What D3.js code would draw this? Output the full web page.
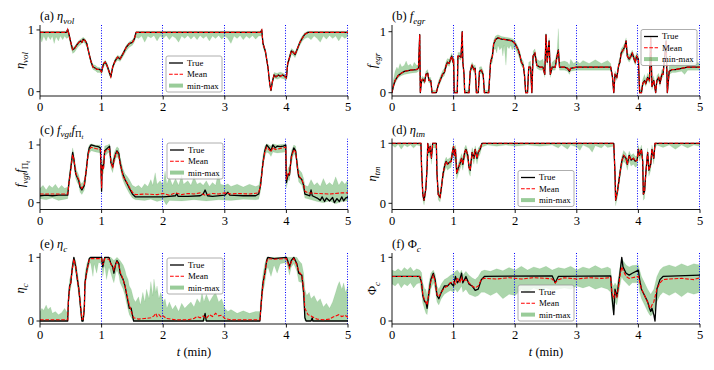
<!DOCTYPE html>
<html><head><meta charset="utf-8">
<script src="https://cdn.jsdelivr.net/npm/d3@7"></script>
<style>body{margin:0;background:#fff}svg{display:block}text{font-family:"Liberation Serif","DejaVu Serif",serif;fill:#000}</style>
</head><body><svg id="c" width="714" height="370"></svg>
<script>
const xTicks=[0,1,2,3,4,5];
const yTicks=[0,1];
const vLines=[1,2,3,4,5];
const legendLabels=["True","Mean","min-max"];

// (a) eta_vol
const trueA=[[0,0.96],[0.43,0.96],[0.45,1.01],[0.47,0.93],[0.5,0.8],[0.53,0.68],[0.56,0.7],[0.6,0.76],[0.63,0.8],[0.66,0.82],[0.68,0.8],[0.7,0.85],[0.73,0.83],[0.76,0.78],[0.8,0.6],[0.83,0.48],[0.86,0.4],[0.9,0.38],[0.93,0.36],[0.97,0.36],[1.0,0.32],[1.03,0.45],[1.06,0.48],[1.09,0.42],[1.12,0.33],[1.15,0.24],[1.18,0.4],[1.22,0.5],[1.26,0.56],[1.3,0.53],[1.35,0.62],[1.4,0.72],[1.45,0.78],[1.5,0.8],[1.53,0.85],[1.56,0.96],[3.58,0.96],[3.6,1.0],[3.62,0.78],[3.66,0.65],[3.7,0.4],[3.73,0.12],[3.75,0.02],[3.77,0.15],[3.8,0.27],[3.83,0.24],[3.87,0.27],[3.9,0.25],[3.94,0.27],[3.97,0.25],[4.0,0.22],[4.02,0.45],[4.05,0.55],[4.08,0.66],[4.11,0.64],[4.14,0.6],[4.18,0.7],[4.22,0.8],[4.26,0.87],[4.3,0.93],[4.35,0.96],[5,0.96]];
const maxA=[[0,0.98],[0.43,0.98],[0.45,1.02],[0.47,0.95],[0.5,0.82],[0.53,0.72],[0.56,0.73],[0.6,0.79],[0.63,0.83],[0.66,0.85],[0.7,0.88],[0.73,0.86],[0.76,0.81],[0.8,0.63],[0.83,0.52],[0.86,0.44],[0.9,0.43],[0.93,0.4],[0.97,0.39],[1.0,0.36],[1.03,0.48],[1.06,0.51],[1.09,0.46],[1.12,0.37],[1.15,0.29],[1.18,0.43],[1.22,0.54],[1.26,0.59],[1.3,0.57],[1.35,0.65],[1.4,0.75],[1.45,0.81],[1.5,0.84],[1.53,0.89],[1.56,0.98],[3.58,0.98],[3.6,1.02],[3.62,0.8],[3.66,0.68],[3.7,0.44],[3.73,0.16],[3.75,0.05],[3.77,0.2],[3.8,0.31],[3.85,0.3],[3.9,0.32],[3.95,0.3],[4.0,0.27],[4.02,0.48],[4.05,0.6],[4.08,0.7],[4.11,0.68],[4.14,0.64],[4.18,0.73],[4.22,0.84],[4.26,0.91],[4.3,0.96],[4.35,0.98],[5,0.98]];
const minA=[[0,0.88],[0.03,0.8],[0.06,0.9],[0.1,0.82],[0.13,0.9],[0.17,0.84],[0.2,0.9],[0.23,0.78],[0.26,0.89],[0.3,0.82],[0.33,0.9],[0.37,0.84],[0.4,0.9],[0.43,0.86],[0.47,0.88],[0.5,0.72],[0.53,0.62],[0.56,0.64],[0.6,0.7],[0.63,0.74],[0.66,0.76],[0.7,0.8],[0.73,0.78],[0.76,0.72],[0.8,0.56],[0.83,0.43],[0.86,0.36],[0.9,0.34],[0.93,0.31],[0.97,0.31],[1.0,0.28],[1.03,0.4],[1.06,0.44],[1.09,0.37],[1.12,0.28],[1.15,0.21],[1.18,0.35],[1.22,0.46],[1.26,0.51],[1.3,0.49],[1.35,0.57],[1.4,0.66],[1.45,0.72],[1.5,0.75],[1.53,0.8],[1.56,0.88],[1.6,0.86],[1.65,0.9],[1.7,0.8],[1.75,0.9],[1.8,0.87],[1.85,0.91],[1.9,0.82],[1.95,0.9],[2.0,0.86],[2.05,0.91],[2.1,0.84],[2.15,0.9],[2.2,0.87],[2.25,0.8],[2.3,0.9],[2.35,0.86],[2.4,0.91],[2.45,0.85],[2.5,0.9],[2.55,0.84],[2.6,0.91],[2.65,0.86],[2.7,0.9],[2.75,0.82],[2.8,0.9],[2.85,0.86],[2.9,0.91],[2.95,0.85],[3.0,0.9],[3.05,0.86],[3.1,0.78],[3.15,0.9],[3.2,0.86],[3.25,0.91],[3.3,0.84],[3.35,0.9],[3.4,0.86],[3.45,0.91],[3.5,0.85],[3.55,0.9],[3.6,0.9],[3.62,0.72],[3.66,0.6],[3.7,0.36],[3.73,0.08],[3.75,0.0],[3.77,0.1],[3.8,0.22],[3.85,0.2],[3.9,0.22],[3.95,0.21],[4.0,0.18],[4.02,0.4],[4.05,0.5],[4.08,0.6],[4.11,0.59],[4.14,0.55],[4.18,0.65],[4.22,0.75],[4.26,0.82],[4.3,0.86],[4.35,0.88],[4.4,0.84],[4.45,0.9],[4.5,0.86],[4.55,0.8],[4.6,0.9],[4.65,0.85],[4.7,0.91],[4.75,0.86],[4.8,0.9],[4.85,0.82],[4.9,0.9],[4.95,0.86],[5,0.9]];

// (b) f_egr
const trueB=[[0,0],[0.02,0.1],[0.05,0.2],[0.1,0.28],[0.15,0.32],[0.2,0.35],[0.3,0.37],[0.4,0.38],[0.43,0.4],[0.45,0.95],[0.46,0.0],[0.48,0.2],[0.5,0.22],[0.53,0.18],[0.55,0.3],[0.58,0.32],[0.6,0.2],[0.63,0.2],[0.65,0.0],[0.72,0.0],[0.75,0.12],[0.78,0.2],[0.82,0.3],[0.85,0.33],[0.88,0.45],[0.9,0.5],[0.93,0.48],[0.95,0.55],[0.97,0.6],[0.99,0.5],[1.0,0.55],[1.01,0.0],[1.06,0.0],[1.07,0.6],[1.1,0.6],[1.12,0.58],[1.14,1.0],[1.15,0.5],[1.17,0.3],[1.18,0.0],[1.25,0.0],[1.27,0.35],[1.3,0.45],[1.33,0.38],[1.35,0.4],[1.37,0.0],[1.4,0.0],[1.42,0.35],[1.45,0.37],[1.48,0.3],[1.5,0.0],[1.57,0.0],[1.6,0.5],[1.63,0.6],[1.65,0.8],[1.68,0.87],[1.72,0.9],[1.78,0.88],[1.85,0.87],[1.9,0.86],[1.95,0.85],[2.0,0.8],[2.05,0.7],[2.08,0.6],[2.1,0.5],[2.13,0.45],[2.15,0.3],[2.17,0.0],[2.2,0.0],[2.22,0.42],[2.25,0.42],[2.27,0.0],[2.29,0.6],[2.32,0.65],[2.35,0.45],[2.4,0.42],[2.45,0.42],[2.48,0.3],[2.5,0.95],[2.52,0.5],[2.55,0.85],[2.57,0.3],[2.6,0.42],[2.65,0.42],[2.68,0.6],[2.7,0.7],[2.72,0.42],[2.8,0.42],[2.85,0.4],[2.88,0.35],[2.9,0.4],[3.0,0.42],[3.55,0.42],[3.58,0.25],[3.6,0.0],[3.62,0.3],[3.65,0.25],[3.68,0.45],[3.7,0.5],[3.72,0.65],[3.75,0.7],[3.78,0.75],[3.8,0.85],[3.82,0.6],[3.85,0.55],[3.88,0.6],[3.9,0.65],[3.93,0.55],[3.95,0.5],[3.97,0.6],[4.0,0.55],[4.02,0.0],[4.05,0.0],[4.07,0.15],[4.1,0.2],[4.12,0.15],[4.15,0.25],[4.18,0.2],[4.2,0.9],[4.22,0.1],[4.25,0.2],[4.28,0.0],[4.3,0.2],[4.33,0.25],[4.35,0.15],[4.38,0.3],[4.4,0.3],[4.45,0.85],[4.47,0.0],[4.5,0.35],[4.55,0.38],[4.6,0.38],[4.7,0.4],[4.8,0.42],[5,0.42]];
const maxB=[[0,0.05],[0.02,0.2],[0.05,0.35],[0.08,0.42],[0.1,0.38],[0.13,0.48],[0.16,0.42],[0.2,0.45],[0.23,0.52],[0.26,0.44],[0.3,0.47],[0.33,0.42],[0.36,0.5],[0.4,0.45],[0.43,0.46],[0.45,0.97],[0.46,0.05],[0.48,0.25],[0.5,0.27],[0.53,0.23],[0.55,0.35],[0.58,0.38],[0.6,0.25],[0.63,0.25],[0.65,0.04],[0.72,0.04],[0.75,0.18],[0.78,0.26],[0.82,0.36],[0.85,0.4],[0.88,0.52],[0.9,0.56],[0.93,0.55],[0.95,0.6],[0.97,0.65],[0.99,0.57],[1.0,0.6],[1.01,0.04],[1.06,0.04],[1.07,0.66],[1.1,0.66],[1.12,0.64],[1.14,1.02],[1.15,0.56],[1.17,0.36],[1.18,0.04],[1.25,0.04],[1.27,0.42],[1.3,0.5],[1.33,0.44],[1.35,0.46],[1.37,0.04],[1.4,0.04],[1.42,0.42],[1.45,0.43],[1.48,0.36],[1.5,0.04],[1.57,0.04],[1.6,0.56],[1.63,0.67],[1.65,0.86],[1.68,0.93],[1.72,0.95],[1.78,0.92],[1.85,0.91],[1.9,0.9],[1.95,0.89],[2.0,0.85],[2.05,0.75],[2.08,0.66],[2.1,0.56],[2.13,0.52],[2.15,0.4],[2.17,0.05],[2.2,0.05],[2.22,0.5],[2.25,0.52],[2.27,0.05],[2.29,0.68],[2.32,0.72],[2.35,0.55],[2.4,0.52],[2.45,0.55],[2.48,0.4],[2.5,0.98],[2.52,0.58],[2.55,0.9],[2.57,0.38],[2.6,0.5],[2.65,0.55],[2.68,0.68],[2.7,1.05],[2.72,0.5],[2.8,0.52],[2.85,0.5],[2.88,0.45],[2.9,0.55],[2.95,0.48],[3.0,0.52],[3.05,0.48],[3.1,0.53],[3.2,0.48],[3.3,0.54],[3.4,0.48],[3.5,0.53],[3.55,0.48],[3.58,0.3],[3.6,0.04],[3.62,0.36],[3.65,0.3],[3.68,0.52],[3.7,0.58],[3.72,0.72],[3.75,0.76],[3.78,0.82],[3.8,0.9],[3.82,0.66],[3.85,0.62],[3.88,0.66],[3.9,0.7],[3.93,0.62],[3.95,0.58],[3.97,0.66],[4.0,0.62],[4.02,0.05],[4.05,0.05],[4.07,0.22],[4.1,0.3],[4.12,0.22],[4.15,0.32],[4.18,0.28],[4.2,0.95],[4.22,0.18],[4.25,0.28],[4.28,0.05],[4.3,0.28],[4.33,0.32],[4.35,0.22],[4.38,0.38],[4.4,0.38],[4.45,0.9],[4.47,0.05],[4.5,0.44],[4.55,0.48],[4.6,0.46],[4.65,0.52],[4.7,0.48],[4.75,0.5],[4.8,0.47],[4.85,0.53],[4.9,0.48],[4.95,0.5],[5,0.48]];
const minB=[[0,0],[0.02,0.05],[0.05,0.15],[0.1,0.24],[0.15,0.28],[0.2,0.3],[0.3,0.32],[0.4,0.33],[0.43,0.35],[0.45,0.9],[0.46,0.0],[0.48,0.16],[0.5,0.18],[0.53,0.14],[0.55,0.26],[0.58,0.28],[0.6,0.16],[0.63,0.16],[0.65,0.0],[0.72,0.0],[0.75,0.08],[0.78,0.15],[0.82,0.25],[0.85,0.28],[0.88,0.4],[0.9,0.45],[0.93,0.43],[0.95,0.5],[0.97,0.55],[0.99,0.45],[1.0,0.5],[1.01,0.0],[1.06,0.0],[1.07,0.55],[1.1,0.55],[1.12,0.53],[1.14,0.95],[1.15,0.45],[1.17,0.25],[1.18,0.0],[1.25,0.0],[1.27,0.3],[1.3,0.4],[1.33,0.33],[1.35,0.35],[1.37,0.0],[1.4,0.0],[1.42,0.3],[1.45,0.32],[1.48,0.25],[1.5,0.0],[1.57,0.0],[1.6,0.45],[1.63,0.5],[1.65,0.7],[1.68,0.72],[1.7,0.65],[1.72,0.78],[1.75,0.7],[1.78,0.75],[1.8,0.6],[1.82,0.78],[1.85,0.45],[1.87,0.76],[1.9,0.72],[1.93,0.78],[1.95,0.7],[1.98,0.74],[2.0,0.72],[2.05,0.62],[2.08,0.52],[2.1,0.44],[2.13,0.4],[2.15,0.25],[2.17,0.0],[2.2,0.0],[2.22,0.37],[2.25,0.37],[2.27,0.0],[2.29,0.55],[2.32,0.6],[2.35,0.4],[2.4,0.37],[2.45,0.37],[2.48,0.25],[2.5,0.9],[2.52,0.45],[2.55,0.8],[2.57,0.25],[2.6,0.37],[2.65,0.37],[2.68,0.55],[2.7,0.65],[2.72,0.37],[2.8,0.37],[2.85,0.35],[2.88,0.3],[2.9,0.35],[3.0,0.37],[3.55,0.37],[3.58,0.2],[3.6,0.0],[3.62,0.25],[3.65,0.2],[3.68,0.4],[3.7,0.45],[3.72,0.6],[3.75,0.64],[3.78,0.7],[3.8,0.8],[3.82,0.55],[3.85,0.5],[3.88,0.55],[3.9,0.6],[3.93,0.5],[3.95,0.45],[3.97,0.55],[4.0,0.5],[4.02,0.0],[4.05,0.0],[4.07,0.1],[4.1,0.15],[4.12,0.1],[4.15,0.2],[4.18,0.15],[4.2,0.85],[4.22,0.05],[4.25,0.15],[4.28,0.0],[4.3,0.15],[4.33,0.2],[4.35,0.1],[4.38,0.25],[4.4,0.25],[4.45,0.8],[4.47,0.0],[4.5,0.3],[4.55,0.33],[4.6,0.33],[4.7,0.35],[4.75,0.3],[4.8,0.37],[5,0.37]];

// (c) f_vgt f_Pi_t
const trueC=[[0,0.12],[0.1,0.13],[0.2,0.12],[0.3,0.13],[0.45,0.13],[0.47,0.35],[0.5,0.6],[0.53,0.87],[0.55,0.75],[0.58,0.5],[0.6,0.45],[0.63,0.38],[0.65,0.27],[0.68,0.22],[0.72,0.3],[0.75,0.55],[0.78,0.85],[0.8,0.95],[0.83,1.0],[0.9,0.98],[0.95,0.97],[0.98,0.95],[0.99,0.6],[1.0,0.2],[1.01,0.65],[1.03,0.6],[1.05,0.9],[1.1,0.95],[1.13,0.98],[1.15,0.7],[1.18,0.62],[1.2,0.75],[1.23,0.85],[1.25,0.9],[1.28,0.85],[1.3,0.7],[1.33,0.55],[1.35,0.48],[1.38,0.4],[1.42,0.32],[1.45,0.25],[1.5,0.15],[1.55,0.1],[1.8,0.1],[2.0,0.1],[2.1,0.11],[2.2,0.12],[2.22,0.16],[2.24,0.11],[2.4,0.11],[2.6,0.12],[2.65,0.15],[2.68,0.22],[2.72,0.12],[2.8,0.11],[3.0,0.13],[3.05,0.18],[3.08,0.13],[3.3,0.12],[3.5,0.12],[3.55,0.15],[3.58,0.3],[3.62,0.7],[3.65,0.9],[3.68,1.0],[3.72,0.95],[3.75,0.9],[3.78,1.0],[3.82,0.95],[3.85,0.98],[3.9,0.97],[3.95,0.98],[3.99,1.0],[4.0,0.35],[4.03,0.5],[4.05,0.48],[4.08,0.8],[4.12,0.95],[4.15,0.9],[4.18,0.6],[4.2,0.45],[4.25,0.4],[4.28,0.3],[4.3,0.15],[4.35,0.13],[4.38,0.12],[4.4,0.22],[4.42,0.12],[4.5,0.08],[4.55,0.04],[4.58,0.1],[4.62,0.02],[4.65,0.08],[4.7,0.03],[4.75,0.09],[4.78,0.0],[4.82,0.07],[4.86,0.02],[4.9,0.1],[4.93,0.03],[4.96,0.08],[5,0.1]];
const meanC=[[0,0.15],[0.45,0.15],[0.47,0.33],[0.5,0.58],[0.53,0.83],[0.55,0.75],[0.58,0.52],[0.6,0.46],[0.63,0.4],[0.65,0.3],[0.68,0.25],[0.72,0.32],[0.75,0.55],[0.78,0.82],[0.8,0.92],[0.83,0.96],[0.9,0.94],[0.98,0.92],[0.99,0.6],[1.0,0.25],[1.01,0.62],[1.03,0.58],[1.05,0.88],[1.1,0.92],[1.13,0.93],[1.15,0.72],[1.18,0.6],[1.2,0.72],[1.23,0.85],[1.25,0.88],[1.28,0.82],[1.3,0.68],[1.33,0.55],[1.35,0.45],[1.38,0.4],[1.42,0.33],[1.45,0.27],[1.5,0.18],[1.55,0.14],[1.7,0.15],[1.9,0.14],[2.0,0.16],[2.1,0.13],[2.2,0.17],[2.3,0.14],[2.4,0.16],[2.5,0.15],[2.6,0.17],[2.68,0.13],[2.8,0.16],[2.9,0.15],[3.0,0.17],[3.1,0.15],[3.2,0.16],[3.4,0.15],[3.55,0.17],[3.58,0.3],[3.62,0.68],[3.65,0.88],[3.68,0.96],[3.72,0.92],[3.75,0.88],[3.78,0.96],[3.82,0.92],[3.9,0.94],[3.99,0.96],[4.0,0.4],[4.03,0.52],[4.05,0.5],[4.08,0.78],[4.12,0.92],[4.15,0.88],[4.18,0.6],[4.2,0.47],[4.25,0.4],[4.28,0.32],[4.3,0.2],[4.35,0.17],[4.5,0.16],[4.7,0.15],[4.9,0.17],[5,0.17]];
const maxC=[[0,0.25],[0.05,0.3],[0.1,0.22],[0.15,0.3],[0.2,0.26],[0.25,0.32],[0.3,0.24],[0.35,0.3],[0.4,0.25],[0.45,0.27],[0.47,0.45],[0.5,0.72],[0.53,0.95],[0.55,0.85],[0.58,0.62],[0.6,0.55],[0.63,0.48],[0.65,0.37],[0.68,0.33],[0.72,0.4],[0.75,0.66],[0.78,0.93],[0.8,1.0],[0.83,1.02],[0.9,1.0],[0.98,1.0],[0.99,0.72],[1.0,0.32],[1.01,0.75],[1.03,0.7],[1.05,0.98],[1.1,1.0],[1.13,1.02],[1.15,0.8],[1.18,0.72],[1.2,0.85],[1.23,0.93],[1.25,0.97],[1.28,0.94],[1.3,0.8],[1.33,0.66],[1.35,0.58],[1.38,0.5],[1.42,0.45],[1.45,0.4],[1.5,0.3],[1.55,0.27],[1.6,0.3],[1.65,0.25],[1.7,0.33],[1.75,0.28],[1.8,0.4],[1.83,0.3],[1.87,0.52],[1.9,0.32],[1.95,0.38],[2.0,0.3],[2.03,0.55],[2.06,0.32],[2.1,0.45],[2.15,0.3],[2.2,0.42],[2.25,0.3],[2.3,0.48],[2.33,0.32],[2.4,0.38],[2.45,0.3],[2.5,0.45],[2.55,0.32],[2.6,0.35],[2.65,0.3],[2.7,0.38],[2.75,0.28],[2.8,0.35],[2.85,0.3],[2.9,0.55],[2.93,0.32],[3.0,0.3],[3.05,0.33],[3.1,0.28],[3.2,0.32],[3.3,0.27],[3.4,0.32],[3.5,0.28],[3.55,0.3],[3.58,0.42],[3.62,0.82],[3.65,0.98],[3.68,1.02],[3.72,1.0],[3.75,0.98],[3.78,1.02],[3.85,1.0],[3.99,1.02],[4.0,0.45],[4.03,0.62],[4.05,0.6],[4.08,0.9],[4.12,1.0],[4.15,0.98],[4.18,0.72],[4.2,0.58],[4.25,0.52],[4.28,0.42],[4.3,0.3],[4.35,0.28],[4.4,0.4],[4.45,0.3],[4.5,0.35],[4.55,0.28],[4.6,0.42],[4.65,0.3],[4.7,0.35],[4.75,0.3],[4.8,0.45],[4.85,0.3],[4.9,0.38],[4.95,0.32],[5,0.4]];
const minC=[[0,0.07],[0.1,0.05],[0.2,0.08],[0.3,0.04],[0.45,0.07],[0.47,0.25],[0.5,0.5],[0.53,0.75],[0.55,0.65],[0.58,0.42],[0.6,0.36],[0.63,0.3],[0.65,0.18],[0.68,0.14],[0.72,0.22],[0.75,0.45],[0.78,0.75],[0.8,0.85],[0.83,0.9],[0.9,0.88],[0.98,0.86],[0.99,0.5],[1.0,0.15],[1.01,0.55],[1.03,0.5],[1.05,0.8],[1.1,0.86],[1.13,0.88],[1.15,0.6],[1.18,0.52],[1.2,0.65],[1.23,0.76],[1.25,0.8],[1.28,0.75],[1.3,0.6],[1.33,0.45],[1.35,0.38],[1.38,0.3],[1.42,0.22],[1.45,0.16],[1.5,0.08],[1.55,0.05],[1.7,0.04],[1.8,0.06],[1.9,0.02],[2.0,0.05],[2.05,-0.04],[2.1,0.04],[2.3,0.03],[2.5,0.05],[2.7,0.03],[2.9,0.05],[3.1,0.04],[3.3,0.06],[3.5,0.05],[3.55,0.06],[3.58,0.2],[3.62,0.6],[3.65,0.8],[3.68,0.88],[3.72,0.85],[3.75,0.8],[3.78,0.88],[3.85,0.86],[3.99,0.88],[4.0,0.25],[4.03,0.4],[4.05,0.38],[4.08,0.68],[4.12,0.85],[4.15,0.8],[4.18,0.5],[4.2,0.36],[4.25,0.3],[4.28,0.2],[4.3,0.08],[4.4,0.05],[4.5,0.02],[4.6,0.0],[4.7,0.03],[4.8,-0.02],[4.9,0.02],[5,0.03]];

// (d) eta_tm
const trueD=[[0,1],[0.47,1],[0.48,0.6],[0.5,0.15],[0.52,0.05],[0.55,0.25],[0.57,0.6],[0.58,1.0],[0.6,0.85],[0.62,0.95],[0.64,0.75],[0.66,1.0],[0.72,1.0],[0.73,0.5],[0.75,0.15],[0.78,0.1],[0.8,0.25],[0.83,0.5],[0.86,0.65],[0.88,0.7],[0.9,0.65],[0.93,0.68],[0.96,0.7],[0.98,0.85],[1.0,0.95],[1.01,0.8],[1.03,0.9],[1.05,0.5],[1.08,0.6],[1.1,0.65],[1.13,0.75],[1.15,0.65],[1.18,0.85],[1.2,0.9],[1.23,0.8],[1.25,0.6],[1.27,0.55],[1.3,0.85],[1.33,0.75],[1.35,0.9],[1.38,0.75],[1.4,0.85],[1.43,0.9],[1.46,1.0],[3.6,1.0],[3.62,0.5],[3.63,0.05],[3.66,0.2],[3.7,0.5],[3.73,0.7],[3.76,0.8],[3.8,0.75],[3.82,0.65],[3.85,0.8],[3.88,0.72],[3.92,0.75],[3.95,0.7],[3.98,0.72],[4.0,0.9],[4.02,0.8],[4.05,0.9],[4.07,0.7],[4.08,0.15],[4.1,0.2],[4.12,0.5],[4.15,0.85],[4.17,0.55],[4.2,0.65],[4.22,0.9],[4.25,0.75],[4.27,1.0],[5,1.0]];
const maxD=[[0,1.0],[0.47,1.0],[0.48,0.68],[0.5,0.22],[0.52,0.1],[0.55,0.32],[0.57,0.68],[0.58,1.0],[0.6,0.92],[0.62,1.0],[0.64,0.82],[0.66,1.0],[0.72,1.0],[0.73,0.58],[0.75,0.22],[0.78,0.17],[0.8,0.32],[0.83,0.57],[0.86,0.72],[0.88,0.77],[0.9,0.73],[0.93,0.75],[0.96,0.78],[0.98,0.92],[1.0,1.0],[1.01,0.88],[1.03,0.97],[1.05,0.58],[1.08,0.68],[1.1,0.74],[1.13,0.83],[1.15,0.75],[1.18,0.93],[1.2,0.97],[1.23,0.88],[1.25,0.68],[1.27,0.64],[1.3,0.93],[1.33,0.84],[1.35,0.96],[1.38,0.84],[1.4,0.92],[1.43,0.96],[1.46,1.0],[3.6,1.0],[3.62,0.58],[3.63,0.12],[3.66,0.28],[3.7,0.58],[3.73,0.78],[3.76,0.88],[3.8,0.83],[3.82,0.74],[3.85,0.87],[3.88,0.8],[3.92,0.83],[3.95,0.78],[3.98,0.8],[4.0,0.97],[4.02,0.88],[4.05,0.97],[4.07,0.78],[4.08,0.24],[4.1,0.28],[4.12,0.58],[4.15,0.92],[4.17,0.64],[4.2,0.73],[4.22,0.97],[4.25,0.83],[4.27,1.0],[5,1.0]];
const minD=[[0,0.97],[0.05,0.93],[0.1,0.98],[0.15,0.9],[0.2,0.97],[0.25,0.94],[0.3,0.97],[0.35,0.92],[0.4,0.97],[0.47,0.95],[0.48,0.5],[0.5,0.06],[0.52,-0.03],[0.55,0.15],[0.57,0.5],[0.58,0.9],[0.6,0.75],[0.62,0.85],[0.64,0.65],[0.66,0.92],[0.72,0.92],[0.73,0.4],[0.75,0.06],[0.78,0.02],[0.8,0.15],[0.83,0.4],[0.86,0.55],[0.88,0.6],[0.9,0.55],[0.93,0.58],[0.96,0.6],[0.98,0.75],[1.0,0.85],[1.01,0.7],[1.03,0.78],[1.05,0.4],[1.08,0.5],[1.1,0.55],[1.13,0.65],[1.15,0.55],[1.18,0.75],[1.2,0.8],[1.23,0.7],[1.25,0.5],[1.27,0.45],[1.3,0.75],[1.33,0.65],[1.35,0.8],[1.38,0.65],[1.4,0.75],[1.43,0.82],[1.46,0.94],[1.55,0.97],[1.7,0.95],[1.85,0.97],[2.0,0.95],[2.2,0.97],[2.4,0.95],[2.6,0.97],[2.7,0.92],[2.75,0.97],[2.85,0.9],[2.9,0.97],[3.0,0.94],[3.05,0.88],[3.1,0.97],[3.2,0.92],[3.25,0.85],[3.3,0.96],[3.4,0.92],[3.45,0.97],[3.5,0.93],[3.6,0.95],[3.62,0.4],[3.63,-0.04],[3.66,0.1],[3.7,0.4],[3.73,0.6],[3.76,0.7],[3.8,0.65],[3.82,0.55],[3.85,0.7],[3.88,0.62],[3.92,0.65],[3.95,0.6],[3.98,0.62],[4.0,0.8],[4.02,0.7],[4.05,0.8],[4.07,0.6],[4.08,0.05],[4.1,0.08],[4.12,0.38],[4.15,0.75],[4.17,0.45],[4.2,0.55],[4.22,0.8],[4.25,0.65],[4.27,0.92],[4.3,0.97],[4.4,0.93],[4.5,0.97],[4.6,0.9],[4.7,0.97],[4.8,0.92],[4.9,0.97],[5,0.95]];

// (e) eta_c
const trueE=[[0,0],[0.45,0],[0.46,0.3],[0.48,0.55],[0.5,0.6],[0.52,0.8],[0.55,1.0],[0.58,0.85],[0.6,0.7],[0.63,0.5],[0.66,0.2],[0.68,0],[0.7,0],[0.72,0.2],[0.73,0.6],[0.76,0.8],[0.8,0.98],[0.82,1.0],[1.0,1.0],[1.02,0.85],[1.05,1.0],[1.12,1.0],[1.15,0.9],[1.18,0.85],[1.2,0.75],[1.23,0.9],[1.25,0.95],[1.28,0.9],[1.3,0.75],[1.35,0.65],[1.38,0.55],[1.4,0.45],[1.45,0.2],[1.48,0.2],[1.52,0],[2.65,0],[2.68,0.12],[2.7,0],[3.57,0],[3.6,0.4],[3.62,0.6],[3.65,0.75],[3.68,0.95],[3.7,1.0],[3.8,0.98],[4.0,1.0],[4.02,0.95],[4.05,0.85],[4.08,0.95],[4.12,1.0],[4.17,0.9],[4.2,0.75],[4.25,0.72],[4.28,0.45],[4.3,0.05],[4.32,0],[4.4,0],[4.42,0.05],[4.43,0],[5,0]];
const meanE=[[0,0.02],[0.45,0.02],[0.46,0.28],[0.48,0.52],[0.5,0.6],[0.52,0.78],[0.55,0.97],[0.58,0.85],[0.6,0.7],[0.63,0.5],[0.66,0.22],[0.68,0.03],[0.7,0.03],[0.72,0.22],[0.73,0.58],[0.76,0.78],[0.8,0.96],[0.82,0.98],[1.0,0.98],[1.02,0.88],[1.05,0.98],[1.12,0.97],[1.15,0.9],[1.18,0.85],[1.2,0.8],[1.23,0.9],[1.25,0.93],[1.28,0.88],[1.3,0.78],[1.35,0.65],[1.38,0.55],[1.4,0.45],[1.45,0.25],[1.48,0.15],[1.52,0.05],[1.6,0.03],[1.7,0.04],[1.8,0.05],[1.85,0.08],[1.88,0.12],[1.9,0.07],[1.93,0.1],[1.97,0.06],[2.0,0.08],[2.05,0.04],[2.2,0.02],[2.4,0.02],[2.5,0.04],[2.55,0.07],[2.6,0.05],[2.65,0.08],[2.7,0.04],[2.75,0.1],[2.8,0.07],[2.85,0.12],[2.9,0.08],[2.95,0.09],[3.0,0.04],[3.1,0.02],[3.3,0.02],[3.57,0.02],[3.6,0.38],[3.62,0.58],[3.65,0.75],[3.68,0.93],[3.7,0.98],[3.8,0.97],[4.0,0.98],[4.02,0.93],[4.05,0.83],[4.08,0.93],[4.12,0.98],[4.17,0.88],[4.2,0.78],[4.25,0.72],[4.28,0.5],[4.3,0.2],[4.35,0.1],[4.4,0.08],[4.45,0.05],[4.5,0.03],[4.6,0.02],[4.7,0.03],[4.75,0.06],[4.8,0.08],[4.85,0.1],[4.9,0.07],[4.95,0.09],[5,0.06]];
const maxE=[[0,0.15],[0.03,0.2],[0.06,0.17],[0.1,0.25],[0.13,0.18],[0.17,0.22],[0.2,0.12],[0.25,0.15],[0.3,0.1],[0.35,0.13],[0.4,0.2],[0.43,0.15],[0.45,0.12],[0.46,0.4],[0.48,0.65],[0.5,0.72],[0.52,0.9],[0.55,1.0],[0.58,0.95],[0.6,0.82],[0.63,0.62],[0.66,0.35],[0.68,0.1],[0.7,0.1],[0.72,0.35],[0.73,0.75],[0.76,0.9],[0.8,1.0],[1.0,1.0],[1.02,0.95],[1.05,1.0],[1.15,1.0],[1.2,0.95],[1.25,1.0],[1.3,0.95],[1.35,0.88],[1.38,0.8],[1.4,0.72],[1.43,0.65],[1.45,0.55],[1.48,0.5],[1.52,0.35],[1.55,0.3],[1.6,0.38],[1.63,0.25],[1.67,0.45],[1.7,0.3],[1.73,0.5],[1.77,0.35],[1.8,0.62],[1.83,0.4],[1.85,0.66],[1.88,0.45],[1.9,0.55],[1.93,0.35],[1.96,0.45],[2.0,0.3],[2.03,0.35],[2.06,0.2],[2.1,0.3],[2.15,0.18],[2.2,0.25],[2.25,0.15],[2.3,0.28],[2.35,0.2],[2.4,0.25],[2.45,0.3],[2.5,0.22],[2.55,0.35],[2.6,0.28],[2.63,0.45],[2.66,0.3],[2.7,0.42],[2.75,0.3],[2.8,0.38],[2.85,0.45],[2.9,0.3],[2.95,0.35],[3.0,0.2],[3.05,0.15],[3.1,0.18],[3.2,0.12],[3.3,0.16],[3.4,0.12],[3.5,0.15],[3.57,0.15],[3.6,0.55],[3.62,0.75],[3.65,0.9],[3.68,1.0],[4.17,1.0],[4.2,0.95],[4.25,0.9],[4.28,0.75],[4.3,0.5],[4.33,0.4],[4.37,0.45],[4.4,0.35],[4.45,0.4],[4.5,0.3],[4.55,0.35],[4.6,0.22],[4.65,0.28],[4.7,0.2],[4.75,0.3],[4.8,0.45],[4.83,0.55],[4.86,0.62],[4.9,0.5],[4.93,0.6],[4.96,0.45],[5,0.55]];
const minE=[[0,0],[0.45,0],[0.46,0.2],[0.48,0.45],[0.5,0.5],[0.52,0.7],[0.55,0.92],[0.58,0.75],[0.6,0.6],[0.63,0.4],[0.66,0.1],[0.68,-0.01],[0.7,-0.01],[0.72,0.1],[0.73,0.5],[0.76,0.7],[0.8,0.88],[0.82,0.92],[0.86,0.7],[0.88,0.9],[0.92,0.75],[0.95,0.92],[1.0,0.9],[1.02,0.7],[1.05,0.88],[1.08,0.65],[1.12,0.85],[1.15,0.75],[1.18,0.65],[1.2,0.6],[1.23,0.75],[1.25,0.8],[1.28,0.72],[1.3,0.6],[1.35,0.5],[1.38,0.4],[1.4,0.3],[1.45,0.1],[1.48,0.05],[1.52,0],[3.57,0],[3.6,0.25],[3.62,0.45],[3.65,0.6],[3.68,0.8],[3.7,0.85],[3.75,0.7],[3.8,0.88],[3.85,0.75],[3.9,0.9],[4.0,0.92],[4.02,0.85],[4.05,0.72],[4.08,0.85],[4.12,0.9],[4.17,0.78],[4.2,0.62],[4.25,0.6],[4.28,0.3],[4.3,0],[5,0]];

// (f) Phi_c
const trueF=[[0,0.7],[0.45,0.7],[0.48,0.6],[0.5,0.4],[0.53,0.3],[0.55,0.3],[0.57,0.2],[0.6,0.45],[0.63,0.65],[0.67,0.75],[0.7,0.65],[0.73,0.4],[0.76,0.35],[0.8,0.45],[0.85,0.55],[0.9,0.55],[0.95,0.6],[1.0,0.55],[1.03,0.7],[1.06,0.6],[1.1,0.65],[1.13,0.75],[1.15,0.6],[1.2,0.7],[1.25,0.58],[1.3,0.55],[1.35,0.48],[1.4,0.5],[1.45,0.65],[1.5,0.7],[2.6,0.71],[2.65,0.6],[2.7,0.7],[3.55,0.71],[3.57,0.4],[3.6,0.1],[3.62,0.5],[3.65,0.38],[3.68,0.6],[3.7,0.75],[3.73,1.0],[3.75,0.85],[3.8,0.75],[3.85,0.72],[3.9,0.75],[4.0,0.8],[4.02,0.65],[4.05,0.5],[4.1,0.4],[4.15,0.3],[4.18,0.2],[4.2,0.15],[4.22,0.2],[4.25,0.1],[4.27,0.0],[4.3,0.5],[4.35,0.65],[4.4,0.7],[5,0.72]];
const meanF=[[0,0.7],[0.45,0.7],[0.48,0.6],[0.5,0.42],[0.53,0.32],[0.55,0.3],[0.57,0.25],[0.6,0.45],[0.63,0.62],[0.67,0.72],[0.7,0.62],[0.73,0.42],[0.76,0.38],[0.8,0.45],[0.85,0.52],[0.9,0.55],[0.95,0.6],[1.0,0.62],[1.03,0.58],[1.06,0.68],[1.1,0.6],[1.13,0.68],[1.15,0.62],[1.2,0.65],[1.25,0.6],[1.3,0.55],[1.35,0.52],[1.4,0.55],[1.45,0.65],[1.5,0.67],[1.7,0.66],[1.9,0.68],[2.1,0.66],[2.3,0.68],[2.5,0.67],[2.6,0.66],[2.65,0.6],[2.7,0.65],[2.8,0.68],[3.0,0.66],[3.2,0.68],[3.4,0.67],[3.55,0.68],[3.57,0.45],[3.6,0.35],[3.62,0.45],[3.65,0.38],[3.68,0.55],[3.7,0.7],[3.73,0.85],[3.75,0.8],[3.8,0.7],[3.85,0.67],[3.9,0.68],[4.0,0.7],[4.02,0.62],[4.05,0.5],[4.1,0.4],[4.15,0.3],[4.18,0.22],[4.2,0.2],[4.22,0.25],[4.25,0.3],[4.3,0.5],[4.35,0.6],[4.4,0.65],[4.5,0.66],[4.7,0.67],[4.9,0.65],[5,0.68]];
const maxF=[[0,0.8],[0.05,0.78],[0.1,0.82],[0.15,0.78],[0.2,0.84],[0.25,0.8],[0.3,0.85],[0.35,0.78],[0.4,0.82],[0.45,0.8],[0.48,0.76],[0.5,0.6],[0.53,0.5],[0.55,0.5],[0.57,0.4],[0.6,0.6],[0.63,0.75],[0.67,0.8],[0.7,0.74],[0.73,0.55],[0.76,0.5],[0.8,0.58],[0.85,0.65],[0.9,0.68],[0.95,0.72],[1.0,0.75],[1.03,0.78],[1.06,0.8],[1.1,0.75],[1.13,0.8],[1.15,0.72],[1.2,0.78],[1.25,0.72],[1.3,0.68],[1.35,0.65],[1.4,0.7],[1.45,0.78],[1.5,0.8],[1.6,0.78],[1.7,0.82],[1.8,0.79],[1.9,0.84],[2.0,0.8],[2.1,0.86],[2.2,0.8],[2.3,0.85],[2.4,0.82],[2.5,0.86],[2.6,0.8],[2.7,0.84],[2.8,0.82],[2.9,0.86],[3.0,0.8],[3.1,0.85],[3.2,0.82],[3.3,0.87],[3.4,0.82],[3.5,0.85],[3.55,0.82],[3.57,0.6],[3.6,0.55],[3.62,0.6],[3.65,0.55],[3.68,0.72],[3.7,0.85],[3.73,0.98],[3.75,0.95],[3.8,0.88],[3.85,0.85],[3.9,0.87],[4.0,0.88],[4.02,0.8],[4.05,0.7],[4.1,0.6],[4.15,0.5],[4.18,0.45],[4.2,0.42],[4.25,0.5],[4.3,0.7],[4.35,0.8],[4.4,0.85],[4.5,0.88],[4.6,0.85],[4.7,0.9],[4.8,0.86],[4.9,0.9],[5,0.88]];
const minF=[[0,0.58],[0.05,0.55],[0.1,0.6],[0.15,0.52],[0.2,0.58],[0.25,0.55],[0.3,0.6],[0.35,0.52],[0.4,0.58],[0.45,0.6],[0.48,0.45],[0.5,0.28],[0.53,0.18],[0.55,0.12],[0.57,0.1],[0.6,0.3],[0.63,0.5],[0.67,0.6],[0.7,0.5],[0.73,0.3],[0.76,0.25],[0.8,0.35],[0.85,0.42],[0.9,0.45],[0.95,0.48],[1.0,0.45],[1.03,0.5],[1.06,0.45],[1.1,0.5],[1.13,0.55],[1.15,0.45],[1.2,0.5],[1.25,0.42],[1.3,0.4],[1.35,0.38],[1.4,0.4],[1.45,0.45],[1.5,0.45],[1.6,0.4],[1.7,0.45],[1.8,0.35],[1.9,0.42],[2.0,0.4],[2.1,0.5],[2.2,0.45],[2.3,0.52],[2.4,0.48],[2.5,0.52],[2.6,0.48],[2.7,0.5],[2.8,0.52],[2.9,0.5],[3.0,0.55],[3.1,0.52],[3.2,0.55],[3.3,0.5],[3.4,0.53],[3.5,0.5],[3.55,0.45],[3.57,0.25],[3.6,0.1],[3.62,0.3],[3.65,0.25],[3.68,0.42],[3.7,0.55],[3.73,0.7],[3.75,0.65],[3.8,0.6],[3.85,0.55],[3.9,0.6],[4.0,0.6],[4.02,0.45],[4.05,0.35],[4.1,0.25],[4.15,0.15],[4.18,0.1],[4.2,0.08],[4.25,0.12],[4.3,0.3],[4.35,0.4],[4.4,0.45],[4.5,0.4],[4.6,0.45],[4.7,0.38],[4.8,0.45],[4.9,0.42],[5,0.45]];

// labels: parts [text, italic, level]
const titles={
 a:[["(a) ",0,0],["η",1,0],["vol",1,1]],
 b:[["(b) ",0,0],["f",1,0],["egr",1,1]],
 c:[["(c) ",0,0],["f",1,0],["vgt",1,1],["f",1,0],["Π",0,1],["t",1,2]],
 d:[["(d) ",0,0],["η",1,0],["tm",1,1]],
 e:[["(e) ",0,0],["η",1,0],["c",1,1]],
 f:[["(f) ",0,0],["Φ",0,0],["c",1,1]]
};
const ylabels={
 a:[["η",1,0],["vol",1,1]],
 b:[["f",1,0],["egr",1,1]],
 c:[["f",1,0],["vgt",1,1],["f",1,0],["Π",0,1],["t",1,2]],
 d:[["η",1,0],["tm",1,1]],
 e:[["η",1,0],["c",1,1]],
 f:[["Φ",0,0],["c",1,1]]
};

const cols=[[40,348],[392,700]];
const rows=[[25,96],[138.5,209.5],[253,324]];
const panels=[
 {id:"a",c:0,r:0,yd:[-0.07,1.08],tru:trueA,mean:trueA,lo:minA,hi:maxA,leg:[166,56]},
 {id:"b",c:1,r:0,yd:[-0.054,1.11],tru:trueB,mean:trueB,lo:minB,hi:maxB,leg:[641,29.5]},
 {id:"c",c:0,r:1,yd:[-0.118,1.112],tru:trueC,mean:meanC,lo:minC,hi:maxC,leg:[167,143]},
 {id:"d",c:1,r:1,yd:[-0.103,1.08],tru:trueD,mean:trueD,lo:minD,hi:maxD,leg:[518,170.5]},
 {id:"e",c:0,r:2,yd:[-0.047,1.068],tru:trueE,mean:meanE,lo:minE,hi:maxE,leg:[167,258]},
 {id:"f",c:1,r:2,yd:[-0.047,1.068],tru:trueF,mean:meanF,lo:minF,hi:maxF,leg:[518,285]}
];

const svg=d3.select("#c");
function mathText(t,parts,fs){
 const off=[0,0.28*fs,0.45*fs], sz=[fs,fs*0.72,fs*0.55];
 let prev=0;
 parts.forEach(p=>{
  t.append("tspan").text(p[0]).attr("font-style",p[1]?"italic":"normal")
   .attr("font-size",sz[p[2]]).attr("dy",off[p[2]]-off[prev]);
  prev=p[2];
 });
}
const GREEN="#008000";
panels.forEach(p=>{
 const [x0,x1]=cols[p.c], [top,bot]=rows[p.r];
 const x=d3.scaleLinear().domain([0,5]).range([x0,x1]);
 const y=d3.scaleLinear().domain(p.yd).range([bot,top]);
 const g=svg.append("g");
 const cid="clip"+p.id;
 svg.append("clipPath").attr("id",cid).append("rect").attr("x",x0).attr("y",top).attr("width",x1-x0).attr("height",bot-top);
 const pg=g.append("g").attr("clip-path",`url(#${cid})`);
 const line=d3.line().x(d=>x(d[0])).y(d=>y(d[1]));
 pg.append("path").attr("d",line(p.hi.concat(p.lo.slice().reverse()))+"Z")
  .attr("fill",GREEN).attr("fill-opacity",0.33).attr("stroke",GREEN).attr("stroke-opacity",0.12).attr("stroke-width",0.6);
 pg.selectAll("line.v").data(vLines).enter().append("line")
  .attr("x1",d=>Math.round(x(d))-0.5).attr("x2",d=>Math.round(x(d))-0.5).attr("y1",top).attr("y2",bot)
  .attr("stroke","#0000ff").attr("stroke-width",1).attr("stroke-dasharray","1,1.6");
 pg.append("path").attr("d",line(p.tru)).attr("fill","none").attr("stroke","#000").attr("stroke-width",1.3).attr("stroke-linejoin","round");
 pg.append("path").attr("d",line(p.mean)).attr("fill","none").attr("stroke","#ff0000").attr("stroke-width",1.1).attr("stroke-dasharray","3.7,1.6");
 // axes
 g.append("line").attr("x1",x0).attr("x2",x0).attr("y1",top).attr("y2",bot).attr("stroke","#000").attr("stroke-width",0.9);
 g.append("line").attr("x1",x0).attr("x2",x1).attr("y1",bot).attr("y2",bot).attr("stroke","#000").attr("stroke-width",0.9);
 xTicks.forEach(v=>{
  g.append("line").attr("x1",x(v)).attr("x2",x(v)).attr("y1",bot).attr("y2",bot+3.5).attr("stroke","#000").attr("stroke-width",0.9);
  g.append("text").attr("x",x(v)).attr("y",bot+15).attr("text-anchor","middle").attr("font-size",12.5).text(v);
 });
 yTicks.forEach(v=>{
  g.append("line").attr("x1",x0-3.5).attr("x2",x0).attr("y1",y(v)).attr("y2",y(v)).attr("stroke","#000").attr("stroke-width",0.9);
  g.append("text").attr("x",x0-6).attr("y",y(v)+4.3).attr("text-anchor","end").attr("font-size",12.5).text(v);
 });
 mathText(g.append("text").attr("x",x0).attr("y",top-5),titles[p.id],12.5);
 mathText(g.append("text").attr("text-anchor","middle").attr("transform",`translate(${x0-16},${(top+bot)/2}) rotate(-90)`),ylabels[p.id],12.5);
 if(p.r===2){
  const t=g.append("text").attr("x",(x0+x1)/2).attr("y",356).attr("text-anchor","middle").attr("font-size",12.5);
  t.append("tspan").attr("font-style","italic").text("t");
  t.append("tspan").text(" (min)");
 }
 // legend
 const [lx,ly]=p.leg;
 const lg=g.append("g");
 lg.append("rect").attr("x",lx).attr("y",ly).attr("width",56).attr("height",36).attr("rx",2)
  .attr("fill","#fff").attr("fill-opacity",0.8).attr("stroke","#999").attr("stroke-width",0.8);
 const offs=[7,18.3,29.6];
 legendLabels.forEach((lab,i)=>{
  const yy=ly+offs[i];
  const h=lg.append("line").attr("x1",lx+3).attr("x2",lx+17).attr("y1",yy).attr("y2",yy);
  if(i===0) h.attr("stroke","#000").attr("stroke-width",1.3);
  if(i===1) h.attr("stroke","#ff0000").attr("stroke-width",1.1).attr("stroke-dasharray","3.7,1.6");
  if(i===2) h.attr("stroke",GREEN).attr("stroke-opacity",0.4).attr("stroke-width",4);
  lg.append("text").attr("x",lx+21).attr("y",yy+2.9).attr("font-size",8.8).text(lab);
 });
});
</script></body></html>
